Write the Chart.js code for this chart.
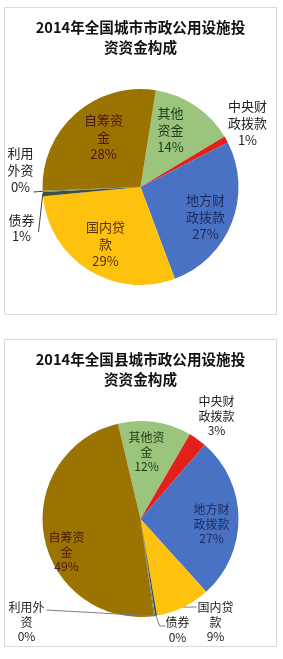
<!DOCTYPE html>
<html><head><meta charset="utf-8">
<script src="https://cdn.jsdelivr.net/npm/chart.js@4"></script>
<style>
html,body{margin:0;padding:0;background:#fff;width:283px;height:659px;overflow:hidden}
.box{position:absolute;left:4px;width:271px;height:306px;border:1px solid #d9d9d9;background:#fff}
canvas{display:block}
</style></head><body>
<div class="box" style="top:7px"><canvas id="c1" width="271" height="306"></canvas></div>
<div class="box" style="top:339px"><canvas id="c2" width="271" height="306"></canvas></div>
<script>
// ---- data ----
const categories = ['其他资金','中央财政拨款','地方财政拨款','国内贷款','债券','利用外资','自筹资金'];
const cityValues = [13.9, 1.1, 26.8, 29.2, 0.7, 0.2, 28.1];
const countyValues = [12.1, 3.0, 26.9, 9.0, 0.3, 0.2, 48.5];
const cityTitle = ['2014年全国城市市政公用设施投', '资资金构成'];
const countyTitle = ['2014年全国县城市政公用设施投', '资资金构成'];
const cityLabelLines = [['其他','资金'],['中央财','政拨款'],['地方财','政拨款'],['国内贷','款'],['债券'],['利用','外资'],['自筹资','金']];
const countyLabelLines = [['其他资','金'],['中央财','政拨款'],['地方财','政拨款'],['国内贷','款'],['债券'],['利用外','资'],['自筹资','金']];

// ---- styles / layout ----
const sliceColors = ['#9bc57c','#e4201c','#4a72c4','#fdc10e','#3b4f47','#6f876f','#9a7300'];
const FONT = '"Noto Sans CJK SC","Noto Sans",sans-serif';
const cityTextColors = ['#1d3a19','#222222','#1b2a5c','#58300a','#222222','#222222','#4a1a0e'];
const countyTextColors = ['#1d3a19','#222222','#1b2a5c','#222222','#222222','#222222','#4a1a0e'];
const cityLayout = {
  size: 13, lh: 16.7, rotation: 9, colors: cityTextColors,
  pos: [[30,-57],[107,-64],[65,30],[-35,57],[-119,41],[-120,-17],[-37,-50]],
  leaders: [null,null,null,null,[[-102,45]],[[-107,5]],null],
  leaderColor: '#404040'
};
const countyLayout = {
  size: 12, lh: 14.5, rotation: -13.3, colors: countyTextColors,
  pos: [[6,-67],[76,-103],[71,5],[75,103],[37,111],[-114,103],[-74,33]],
  leaders: [null,null,null,[[56,88]],[[19,107],[25,107]],[[-94,91]],null],
  leaderColor: '#7f7f7f'
};

const labelPlugin = {
  id: 'sliceLabels',
  afterDatasetsDraw(chart, args, opts) {
    const ctx = chart.ctx;
    const meta = chart.getDatasetMeta(0);
    const vals = chart.data.datasets[0].data;
    const L = opts.layout;
    ctx.save();
    meta.data.forEach((arc, i) => {
      const p = arc.getProps(['x','y','startAngle','endAngle','outerRadius'], true);
      const mid = (p.startAngle + p.endAngle) / 2;
      const ex = p.x + Math.cos(mid) * p.outerRadius;
      const ey = p.y + Math.sin(mid) * p.outerRadius;
      const ld = L.leaders[i];
      if (ld) {
        ctx.strokeStyle = L.leaderColor;
        ctx.lineWidth = 1;
        ctx.beginPath();
        ctx.moveTo(ex, ey);
        ld.forEach(pt => ctx.lineTo(p.x + pt[0], p.y + pt[1]));
        ctx.stroke();
      }
      const lines = opts.lines[i].concat([Math.round(vals[i]) + '%']);
      const cx = p.x + L.pos[i][0];
      const cy = p.y + L.pos[i][1];
      ctx.fillStyle = L.colors[i];
      ctx.font = L.size + 'px ' + FONT;
      ctx.textAlign = 'center';
      ctx.textBaseline = 'middle';
      const n = lines.length;
      lines.forEach((t, k) => {
        ctx.fillText(t, cx, cy + (k - (n - 1) / 2) * L.lh);
      });
    });
    ctx.restore();
  }
};

function makePie(id, values, title, lines, layout) {
  return new Chart(document.getElementById(id), {
    type: 'pie',
    data: {
      labels: categories,
      datasets: [{
        data: values,
        backgroundColor: sliceColors,
        borderWidth: 0
      }]
    },
    options: {
      responsive: false,
      animation: false,
      devicePixelRatio: 1,
      rotation: layout.rotation,
      layout: { padding: { top: 0, bottom: 29, left: 0, right: 0 } },
      plugins: {
        legend: { display: false },
        tooltip: { enabled: false },
        title: {
          display: true,
          text: title,
          color: '#111111',
          font: { family: FONT, size: 14.6, weight: 'bold', lineHeight: '20px' },
          padding: { top: 9, bottom: 32 }
        },
        sliceLabels: { layout: layout, lines: lines }
      }
    },
    plugins: [labelPlugin]
  });
}

makePie('c1', cityValues, cityTitle, cityLabelLines, cityLayout);
makePie('c2', countyValues, countyTitle, countyLabelLines, countyLayout);
</script>
</body></html>
